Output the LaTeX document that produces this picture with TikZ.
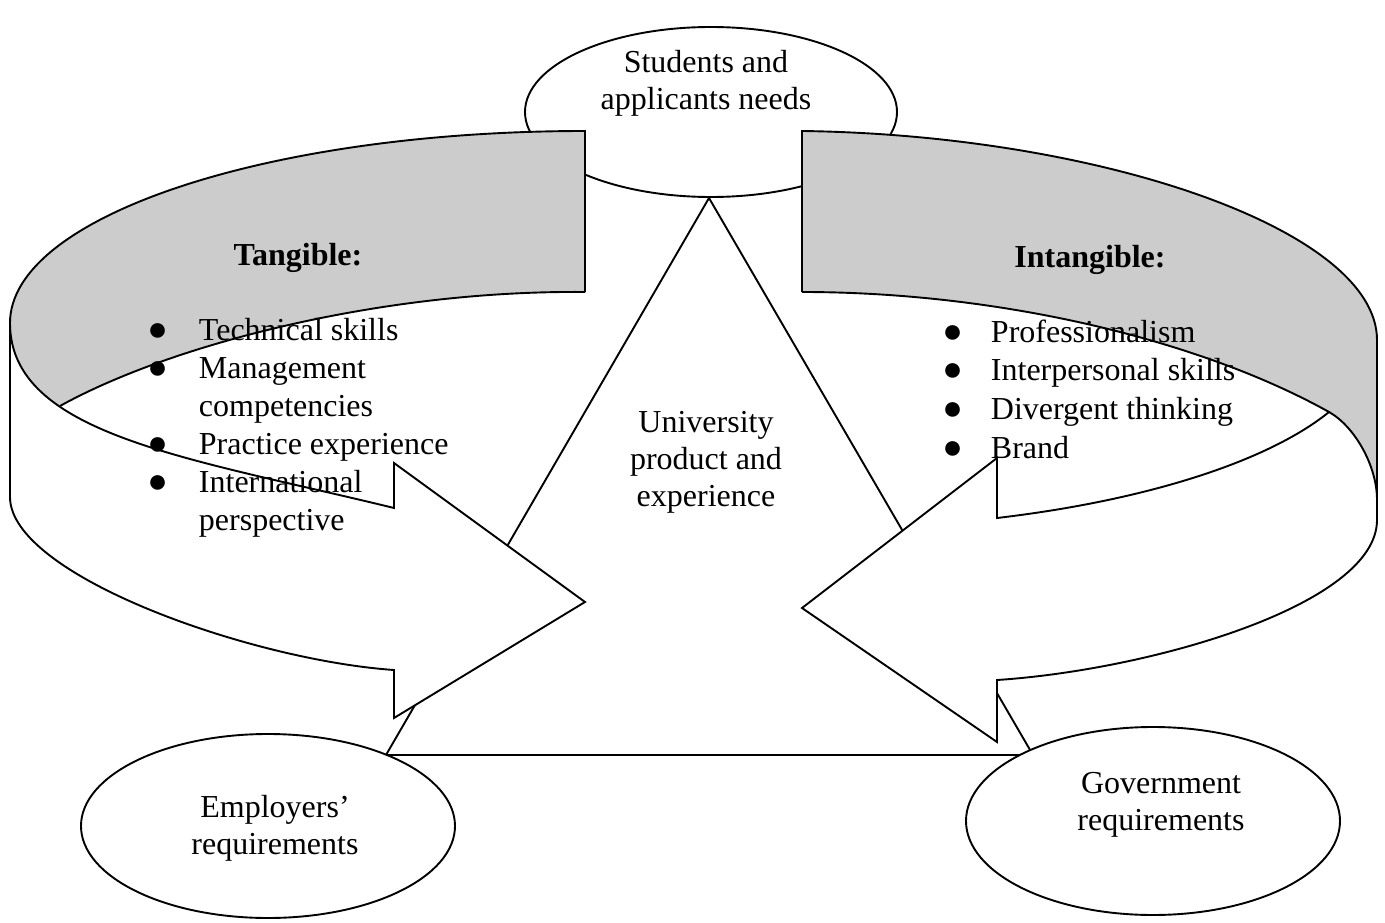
\documentclass[tikz,border=0pt]{standalone}
\usepackage{fontspec}
\setmainfont{Liberation Serif}
\usetikzlibrary{shapes.geometric}
\definecolor{bandgray}{RGB}{204,204,204}
% list bullet: a black circle
\newcommand{\bigbullet}{{\fontsize{34}{34}\selectfont ●}}
\begin{document}
\begin{tikzpicture}[x=1pt,y=-1pt,line width=1.9pt,line join=miter,
  blob/.style={draw,ellipse,fill=white,inner sep=0pt},
  lbl/.style={inner sep=0pt,font=\fontsize{32}{37}\selectfont},
  band/.style={fill=bandgray},
  front/.style={draw,fill=white}]
\useasboundingbox (0,0) rectangle (1385,923);
\fill[white] (0,0) rectangle (1385,923);

% central triangle
\coordinate (apex) at (709,198);
\coordinate (baseL) at (386,755);
\coordinate (baseR) at (1033,755);
\draw (apex) -- (baseL) -- (baseR) -- cycle;

% stakeholder ellipses
\node[blob,minimum width=372pt,minimum height=170pt] (students) at (711,112) {};
\node[blob,minimum width=374pt,minimum height=184pt] (employers) at (268,826) {};
\node[blob,minimum width=374pt,minimum height=188pt] (government) at (1153,821) {};

% left ribbon: back face
\fill[band] (585,131) .. controls (267,131) and (10,217) .. (10,323)
  -- (10,406) -- (60,406) .. controls (170,345) and (380,290) .. (585,292) -- cycle;
\draw (585,292) -- (585,131) .. controls (267,131) and (10,217) .. (10,323);
\draw (60,406) .. controls (170,345) and (380,290) .. (585,292);
% left ribbon: front face with arrow head
\path[front] (10,323) -- (10,497) .. controls (10,575) and (250,660) .. (394,670)
  -- (394,718) -- (585,602) -- (394,463) -- (394,508)
  .. controls (190,458) and (10,435) .. (10,323) -- cycle;

% right ribbon: back face
\fill[band] (802,131) .. controls (1100,135) and (1377,230) .. (1377,340)
  -- (1377,500) .. controls (1377,465) and (1354,426) .. (1329,412)
  .. controls (1200,340) and (1000,292) .. (802,292) -- cycle;
\draw (802,292) -- (802,131) .. controls (1100,135) and (1377,230) .. (1377,340) -- (1377,500);
\draw (802,292) .. controls (1000,292) and (1200,340) .. (1329,412);
% right ribbon: front face with arrow head
\path[front] (1329,412) .. controls (1354,426) and (1377,465) .. (1377,500)
  -- (1377,520) .. controls (1377,605) and (1150,670) .. (997,680)
  -- (997,742) -- (802,608) -- (997,458) -- (997,518)
  .. controls (1150,500) and (1270,460) .. (1329,412) -- cycle;

% texts
\node[lbl,anchor=base] (studentsText) at (706,73)
  {\begin{tabular}[t]{@{}c@{}}Students and\\applicants needs\end{tabular}};
\node[lbl,anchor=base] (productText) at (706,432)
  {\begin{tabular}[t]{@{}c@{}}University\\product and\\experience\end{tabular}};
\node[lbl,anchor=base] (employersText) at (275,817)
  {\begin{tabular}[t]{@{}c@{}}Employers’\\requirements\end{tabular}};
\node[lbl,anchor=base] (governmentText) at (1161,793)
  {\begin{tabular}[t]{@{}c@{}}Government\\requirements\end{tabular}};

\node[lbl,anchor=base] (tangHead) at (298,265) {\bfseries Tangible:};
\node[lbl,anchor=base] (intangHead) at (1090,267) {\bfseries Intangible:};

\node[inner sep=0pt,anchor=base west,font=\fontsize{32}{38}\selectfont] (tangList) at (146.5,340)
  {\begin{tabular}[t]{@{}p{51.5pt}@{}l@{}}
   \bigbullet & Technical skills\\
   \bigbullet & Management\\
              & competencies\\
   \bigbullet & Practice experience\\
   \bigbullet & International\\
              & perspective
   \end{tabular}};
\node[inner sep=0pt,anchor=base west,font=\fontsize{32}{38.7}\selectfont] (intangList) at (941.5,342)
  {\begin{tabular}[t]{@{}p{48.5pt}@{}l@{}}
   \bigbullet & Professionalism\\
   \bigbullet & Interpersonal skills\\
   \bigbullet & Divergent thinking\\
   \bigbullet & Brand
   \end{tabular}};
\end{tikzpicture}
\end{document}
